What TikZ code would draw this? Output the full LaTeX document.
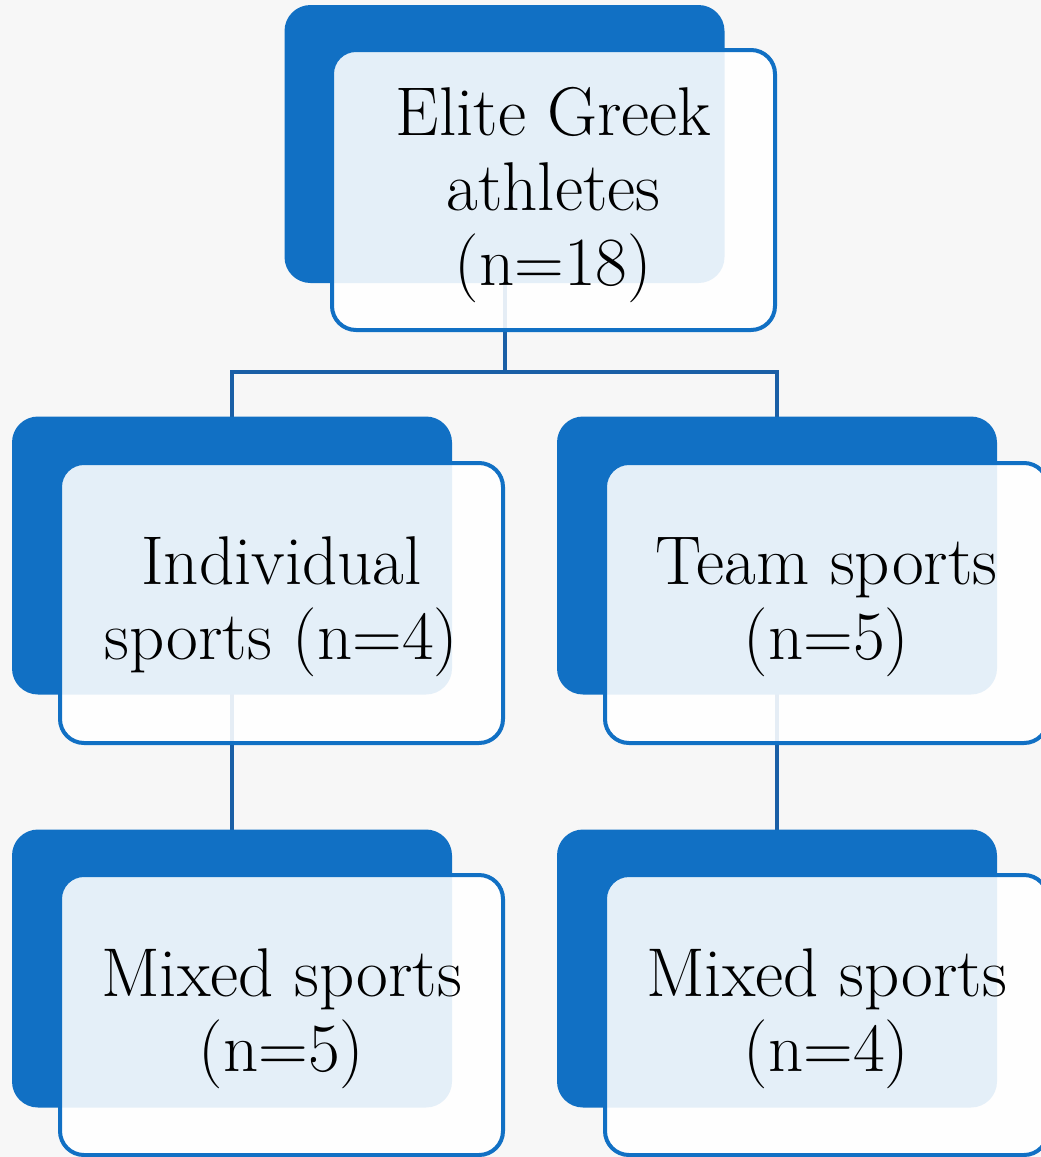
\documentclass[tikz,border=0pt]{standalone}
\usetikzlibrary{positioning}
\definecolor{darkblue}{HTML}{1170C4}
\definecolor{linkblue}{HTML}{1A5FA6}
\definecolor{bgcol}{HTML}{F7F7F7}
\pgfdeclarelayer{back}
\pgfdeclarelayer{bg}
\pgfsetlayers{back,bg,main}
\tikzset{
  backbox/.style={fill=darkblue, draw=none, rounded corners=26pt, minimum width=440pt, minimum height=278pt, inner sep=0pt},
  frontbox/.style={fill=white, fill opacity=0.89, draw=darkblue, draw opacity=1, line width=4pt, rounded corners=24pt, minimum width=443pt, minimum height=280pt, inner sep=0pt},
  boxtext/.style={align=center, inner sep=0pt, font=\fontsize{69}{75}\selectfont},
  link/.style={draw=linkblue, line width=4pt}
}
\begin{document}
\begin{tikzpicture}[x=1pt,y=-1pt]
\begin{pgfonlayer}{back}
\fill[bgcol] (0,0) rectangle (1041,1157);
\end{pgfonlayer}
\useasboundingbox (0,0) rectangle (1041,1157);
% back boxes
\node[backbox] (topd) at (504.5,144) {};
\node[backbox] (indd) at (232,555.5) {};
\node[backbox] (teamd) at (777,555.5) {};
\node[backbox] (mixld) at (232,968.5) {};
\node[backbox] (mixrd) at (777,968.5) {};
% front boxes
\node[frontbox] (top) at (553.5,190) {};
\node[frontbox] (ind) at (281.5,603) {};
\node[frontbox] (team) at (826.5,603) {};
\node[frontbox] (mixl) at (281.5,1015) {};
\node[frontbox] (mixr) at (826.5,1015) {};
% texts
\node[boxtext] (topt) at ([yshift=-5pt]top.center) {Elite Greek\\athletes\\(n=18)};
\node[boxtext] (indt) at ([yshift=-4pt]ind.center) {Individual\\sports (n=4)};
\node[boxtext] (teamt) at ([yshift=-4pt]team.center) {Team sports\\(n=5)};
\node[boxtext] (mixlt) at ([yshift=-4pt]mixl.center) {Mixed sports\\(n=5)};
\node[boxtext] (mixrt) at ([yshift=-4pt]mixr.center) {Mixed sports\\(n=4)};
\coordinate (j) at (504.5,372);
\begin{pgfonlayer}{bg}
\draw[link] (topd.center) -- (j);
\draw[link] (j) -| (indd.center);
\draw[link] (j) -| (teamd.center);
\draw[link] (indd.center) -- (mixld.center);
\draw[link] (teamd.center) -- (mixrd.center);
\end{pgfonlayer}
\end{tikzpicture}
\end{document}
